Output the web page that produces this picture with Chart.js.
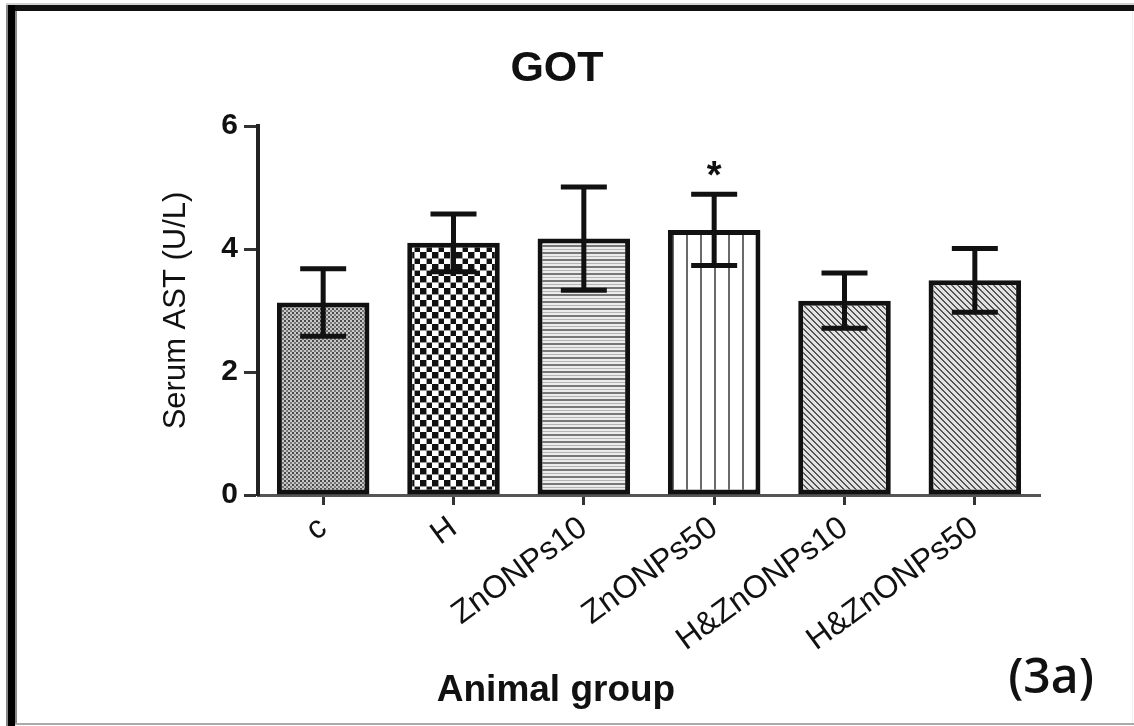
<!DOCTYPE html>
<html>
<head>
<meta charset="utf-8">
<script src="https://cdn.jsdelivr.net/npm/chart.js@4"></script>
<style>
  html, body { margin: 0; padding: 0; background: #fff; }
</style>
</head>
<body>
<canvas id="myChart" width="1134" height="726"></canvas>
<script>
// data
const groups = ['c', 'H', 'ZnONPs10', 'ZnONPs50', 'H&ZnONPs10', 'H&ZnONPs50'];
const means = [3.13, 4.10, 4.17, 4.31, 3.16, 3.49];
const errors = [0.55, 0.47, 0.84, 0.58, 0.45, 0.52];
const marks = ['', '', '', '*', '', ''];
const yMin = 0, yMax = 6, yStep = 2;

const FONT = "'Liberation Sans', Arial, sans-serif";
const ctx = document.getElementById('myChart').getContext('2d');

function tile(w, h, draw){
    const c = document.createElement('canvas');
    c.width = w; c.height = h;
    draw(c.getContext('2d'));
    return ctx.createPattern(c, 'repeat');
}

// fill patterns, one per group
const fineCheck = tile(4, 4, g => {
    g.fillStyle = '#c8c8c8'; g.fillRect(0, 0, 4, 4);
    g.fillStyle = '#4a4a4a'; g.fillRect(0, 0, 2, 2);
    g.fillStyle = '#777'; g.fillRect(2, 2, 2, 2);
});
const bigCheck = tile(12, 12, g => {
    g.fillStyle = '#fff'; g.fillRect(0, 0, 12, 12);
    g.fillStyle = '#111'; g.fillRect(0, 0, 6, 6); g.fillRect(6, 6, 6, 6);
    g.fillStyle = '#999'; g.fillRect(0, 6, 12, 1); g.fillRect(6, 0, 1, 12);
});
const hStripes = tile(1, 7, g => {
    g.fillStyle = '#ececec'; g.fillRect(0, 0, 1, 7);
    g.fillStyle = '#777'; g.fillRect(0, 0, 1, 2);
    g.fillStyle = '#b5b5b5'; g.fillRect(0, 4, 1, 1);
});
const vStripes = tile(14, 1, g => {
    g.fillStyle = '#fff'; g.fillRect(0, 0, 14, 1);
    g.fillStyle = '#6a6a6a'; g.fillRect(0, 0, 2, 1);
});
const diag = tile(6, 6, g => {
    g.fillStyle = '#e2e2e2'; g.fillRect(0, 0, 6, 6);
    g.fillStyle = '#555';
    for (let i = 0; i < 6; i++){
        g.fillRect(i, i, 1, 1);
        g.fillRect((i + 1) % 6, i, 1, 1);
    }
});
const fills = [fineCheck, bigCheck, hStripes, vStripes, diag, diag];

const extras = {
    id: 'extras',
    beforeDraw(chart){
        const c = chart.ctx;
        c.save();
        c.fillStyle = '#fff'; c.fillRect(0, 0, chart.width, chart.height);
        // picture frame
        c.fillStyle = '#d2d2d2'; c.fillRect(6, 3, 1128, 2);
        c.fillStyle = '#888'; c.fillRect(6, 5, 2, 721); c.fillRect(15, 11, 2, 712);
        c.fillStyle = '#111'; c.fillRect(8, 5, 1126, 6);
        c.fillStyle = '#000'; c.fillRect(8, 5, 7, 721);
        c.fillStyle = '#aaa'; c.fillRect(15, 723, 1119, 2);
        c.fillStyle = '#eee'; c.fillRect(1132, 11, 1, 712);
        c.restore();
    },
    afterDatasetsDraw(chart){
        const c = chart.ctx;
        const y = chart.scales.y;
        const bars = chart.getDatasetMeta(0).data;
        c.save();
        c.strokeStyle = '#111';
        c.lineWidth = 5;
        c.lineCap = 'butt';
        bars.forEach((bar, i) => {
            const top = y.getPixelForValue(means[i] + errors[i]);
            const bottom = y.getPixelForValue(means[i] - errors[i]);
            c.beginPath();
            c.moveTo(bar.x, top); c.lineTo(bar.x, bottom);
            c.moveTo(bar.x - 23, top); c.lineTo(bar.x + 23, top);
            c.moveTo(bar.x - 23, bottom); c.lineTo(bar.x + 23, bottom);
            c.stroke();
            if (marks[i]){
                c.fillStyle = '#111';
                c.font = 'bold 38px ' + FONT;
                c.textAlign = 'center';
                c.textBaseline = 'alphabetic';
                c.fillText(marks[i], bar.x, top - 6);
            }
        });
        c.restore();
    },
    afterDraw(chart){
        const c = chart.ctx;
        c.save();
        c.fillStyle = '#111';
        c.textAlign = 'center';
        c.textBaseline = 'middle';
        c.font = 'bold 43px ' + FONT;
        c.fillText('GOT', 557, 69);
        c.font = 'bold 37px ' + FONT;
        c.fillText('Animal group', 556, 691);
        c.font = "600 48px 'Open Sans', sans-serif";
        c.fillText('(3a)', 1051, 679);
        c.restore();
    }
};

const myChart = new Chart(ctx, {
    type: 'bar',
    data: {
        labels: groups,
        datasets: [{
            label: 'Serum AST',
            data: means,
            backgroundColor: fills,
            borderColor: '#111',
            borderWidth: 5,
            borderSkipped: false,
            barPercentage: 0.71,
            categoryPercentage: 1
        }]
    },
    options: {
        responsive: false,
        animation: false,
        layout: { padding: { top: 126, right: 94, left: 140, bottom: 0 } },
        plugins: {
            legend: { display: false },
            tooltip: { enabled: false }
        },
        scales: {
            x: {
                offset: true,
                afterFit: s => { s.height = 231; },
                border: { color: '#555', width: 3 },
                grid: { offset: false, drawOnChartArea: false, tickLength: 10, tickColor: '#333', tickWidth: 3 },
                ticks: {
                    color: '#111',
                    font: { family: FONT, size: 32 },
                    minRotation: 36, maxRotation: 36,
                    autoSkip: false,
                    padding: 4
                }
            },
            y: {
                min: yMin, max: yMax,
                afterFit: s => { s.width = 118; },
                border: { color: '#222', width: 4 },
                grid: { drawOnChartArea: false, tickLength: 14, tickColor: '#333', tickWidth: 3 },
                ticks: {
                    stepSize: yStep,
                    color: '#111',
                    font: { family: FONT, size: 30, weight: 'bold' },
                    padding: 6
                },
                title: {
                    display: true,
                    text: 'Serum AST (U/L)',
                    color: '#111',
                    font: { family: FONT, size: 31 },
                    padding: { top: 18, bottom: 0 }
                }
            }
        }
    },
    plugins: [extras]
});
</script>
</body>
</html>
